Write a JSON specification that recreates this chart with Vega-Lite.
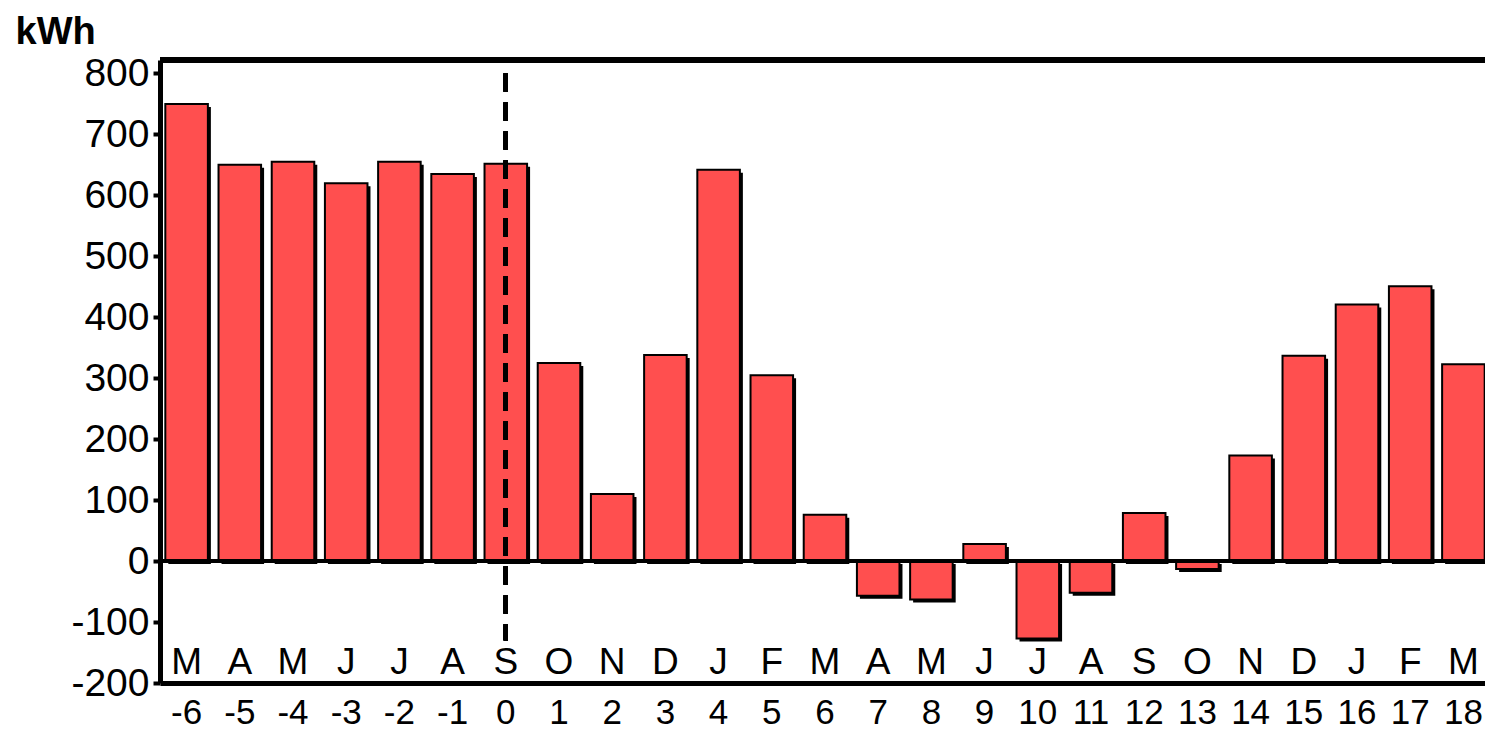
{
  "$schema": "https://vega.github.io/schema/vega-lite/v6.json",
  "width": 1330,
  "height": 623,
  "autosize": {"type": "none"},
  "padding": {"left": 160, "top": 60, "right": 0, "bottom": 49},
  "background": "white",
  "config": {
    "view": {"stroke": null},
    "font": "Liberation Sans",
    "axis": {"labelColor": "black", "domainColor": "black", "tickColor": "black", "grid": false, "labelFont": "Liberation Sans", "titleFont": "Liberation Sans"}
  },
  "data": {
    "values": [
      {"n": -6, "m": "M", "v": 750},
      {"n": -5, "m": "A", "v": 650},
      {"n": -4, "m": "M", "v": 655},
      {"n": -3, "m": "J", "v": 620},
      {"n": -2, "m": "J", "v": 655},
      {"n": -1, "m": "A", "v": 635},
      {"n": 0, "m": "S", "v": 652},
      {"n": 1, "m": "O", "v": 325},
      {"n": 2, "m": "N", "v": 110},
      {"n": 3, "m": "D", "v": 338},
      {"n": 4, "m": "J", "v": 642},
      {"n": 5, "m": "F", "v": 305},
      {"n": 6, "m": "M", "v": 76},
      {"n": 7, "m": "A", "v": -57},
      {"n": 8, "m": "M", "v": -63},
      {"n": 9, "m": "J", "v": 28},
      {"n": 10, "m": "J", "v": -127},
      {"n": 11, "m": "A", "v": -52},
      {"n": 12, "m": "S", "v": 79},
      {"n": 13, "m": "O", "v": -13},
      {"n": 14, "m": "N", "v": 173},
      {"n": 15, "m": "D", "v": 337},
      {"n": 16, "m": "J", "v": 421},
      {"n": 17, "m": "F", "v": 451},
      {"n": 18, "m": "M", "v": 323}
    ]
  },
  "encoding": {
    "x": {
      "field": "n", "type": "ordinal",
      "scale": {"paddingInner": 0.2, "paddingOuter": 0.1},
      "axis": {"title": null, "labelAngle": 0, "labelFontSize": 35, "labelPadding": 12, "ticks": false, "domainWidth": 5, "labelExpr": "'' + datum.value"}
    }
  },
  "layer": [
    {
      "mark": {"type": "bar", "color": "black", "xOffset": 3, "yOffset": 3},
      "encoding": {
        "y": {
          "field": "v", "type": "quantitative",
          "scale": {"domain": [-200, 822], "nice": false, "zero": true},
          "axis": {
            "values": [-200, -100, 0, 100, 200, 300, 400, 500, 600, 700, 800],
            "labelExpr": "'' + datum.value",
            "labelFontSize": 39, "labelPadding": 4, "tickSize": 7, "tickWidth": 4, "domainWidth": 5,
            "title": "kWh", "titleAngle": 0, "titleAlign": "left", "titleBaseline": "top",
            "titleX": -145, "titleY": -47, "titleFontSize": 38, "titleFontWeight": "bold"
          }
        }
      }
    },
    {
      "mark": {"type": "bar", "color": "#ff4f4f", "stroke": "black", "strokeWidth": 2},
      "encoding": {"y": {"field": "v", "type": "quantitative"}}
    },
    {
      "mark": {"type": "rule", "color": "black", "strokeWidth": 4},
      "encoding": {"y": {"datum": 0}, "x": null}
    },
    {
      "mark": {"type": "rule", "color": "black", "strokeWidth": 5},
      "encoding": {"y": {"datum": 822}, "x": null}
    },
    {
      "mark": {"type": "rule", "color": "black", "strokeWidth": 4, "strokeDash": [18, 11]},
      "encoding": {"x": {"datum": 0}, "y": {"datum": 800}, "y2": {"datum": -130}}
    },
    {
      "mark": {"type": "text", "fontSize": 37, "baseline": "middle", "align": "center", "color": "black"},
      "encoding": {"text": {"field": "m"}, "y": {"datum": -168}}
    }
  ]
}
